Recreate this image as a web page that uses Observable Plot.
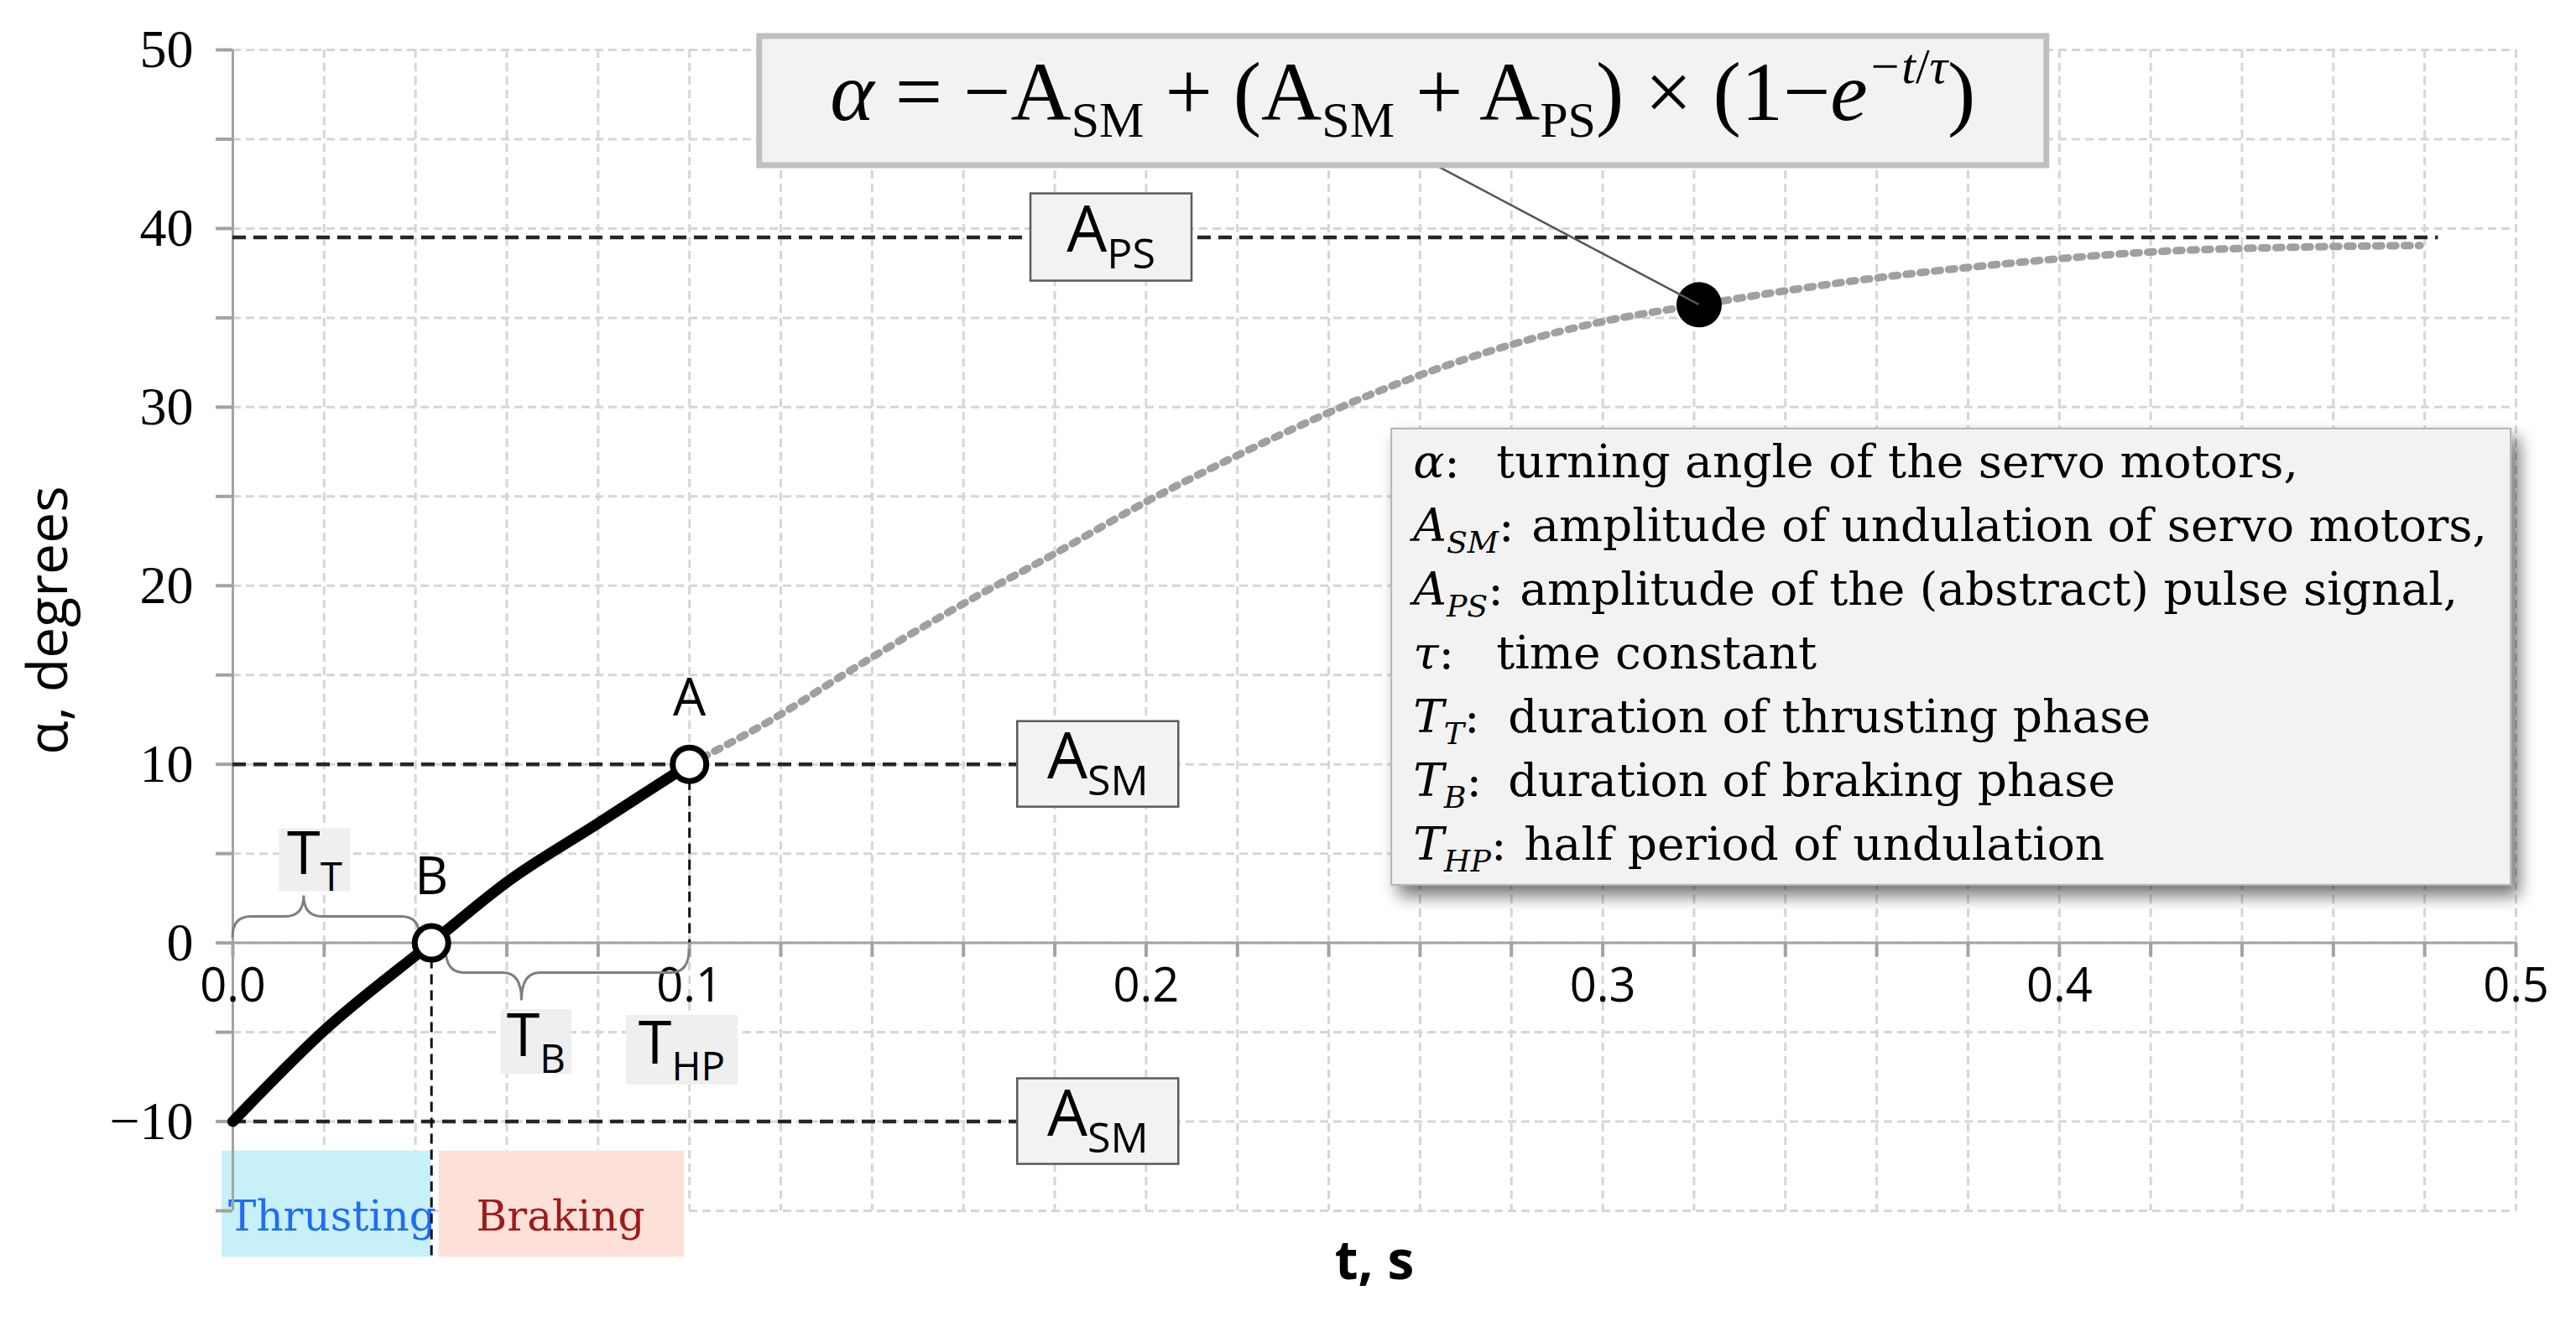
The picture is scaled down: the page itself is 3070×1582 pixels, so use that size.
<!DOCTYPE html>
<html>
<head>
<meta charset="utf-8">
<script src="https://cdn.jsdelivr.net/npm/d3@7"></script>
<script src="https://cdn.jsdelivr.net/npm/@observablehq/plot@0.6"></script>
<style>
  html, body { margin: 0; padding: 0; background: #ffffff; }
  #chart svg { display: block; }
</style>
</head>
<body>
<div id="chart"></div>
<script>
// ------------------------------------------------------------------ data
// thick response curve (thrusting + braking phase)
const tSolid      = [0, 0.02, 0.0435, 0.06, 0.08, 0.1];
const alphaSolid  = [-10, -4.9, 0, 3.4, 6.7, 10];
// dotted continuation of the exponential response
const tDotted     = [0.1, 0.12, 0.133, 0.16, 0.18, 0.2, 0.22, 0.234, 0.251, 0.28, 0.302, 0.3211, 0.353, 0.387, 0.421, 0.455, 0.479];
const alphaDotted = [10, 12.8, 14.9, 19.0, 21.8, 24.7, 27.3, 29.0, 30.9, 33.5, 34.9, 35.73, 37.0, 38.0, 38.7, 38.97, 39.05];

const A_SM = 10;          // amplitude of servo motors
const A_PS = 39.5;        // amplitude of pulse signal
const tB   = 0.0435;      // point B (end of thrusting)
const tHP  = 0.1;         // half period (point A)
const tPSEnd = 0.483;     // end of A_PS reference line
const markerT = 0.3211, markerAlpha = 35.73;   // black marker on the curve

// axis ticks
const xGridTicks  = [0, 0.02, 0.04, 0.06, 0.08, 0.1, 0.12, 0.14, 0.16, 0.18, 0.2, 0.22, 0.24, 0.26, 0.28, 0.3, 0.32, 0.34, 0.36, 0.38, 0.4, 0.42, 0.44, 0.46, 0.48, 0.5];
const xTickLabels = ["0.0", "0.1", "0.2", "0.3", "0.4", "0.5"];
const xTickValues = [0, 0.1, 0.2, 0.3, 0.4, 0.5];
const yGridTicks  = [-15, -10, -5, 0, 5, 10, 15, 20, 25, 30, 35, 40, 45, 50];
const yTickValues = [-10, 0, 10, 20, 30, 40, 50];
const yTickLabels = ["\u221210", "0", "10", "20", "30", "40", "50"];

// phases
const phaseNames = ["Thrusting", "Braking"];
const phaseStart = [0, tB];
const phaseEnd   = [tB, tHP];

// labelled boxes (rich text: _{} subscript)
const boxLabels = ["A_{PS}", "A_{SM}", "A_{SM}", "T_{T}", "T_{B}", "T_{HP}"];
const boxT      = [0.1924, 0.1895, 0.1895, 0.018, 0.0665, 0.0984];
const boxAlpha  = [A_PS, A_SM, -A_SM, 4.63, -5.54, -6.0];

// braces
const braceStart = [0, 0.0467];
const braceEnd   = [0.041, 0.1];
const braceTip   = [0.0156, 0.0633];
const braceSide  = ["up", "down"];

// point labels
const pointNames = ["A", "B"];
const pointT     = [tHP, tB];
const pointAlpha = [A_SM, 0];

// formula & legend
const formulaText = "*α* = \u2212A_{SM} + (A_{SM} + A_{PS}) \u00D7 (1\u2212*e*^{*\u2212t*/*τ*})";
const formulaT = 0.2563, formulaAlpha = 47.14;
const leaderT = 0.2635;
const legendSymbols = ["*α*:", "*A*_{*SM*}:", "*A*_{*PS*}:", "*τ*:", "*T*_{*T*}:", "*T*_{*B*}:", "*T*_{*HP*}:"];
const legendTexts = [
  "turning angle of the servo motors,",
  "amplitude of undulation of servo motors,",
  "amplitude of the (abstract) pulse signal,",
  "time constant",
  "duration of thrusting phase",
  "duration of braking phase",
  "half period of undulation"
];
const legendT = 0.2538, legendAlpha = 28.78;

// ------------------------------------------------------------------ styles / layout
const sans = "'Open Sans', 'DejaVu Sans', sans-serif";
const timesSerif = "'Liberation Serif', 'DejaVu Serif', serif";
const bookSerif = "'DejaVu Serif', 'Liberation Serif', serif";
const gridColor = "#d6d6d6";
const axisColor = "#a3a3a3";
const refDash = "16,9";

const boxStyle = [
  {w: 192, h: 104, size: 76, border: true},
  {w: 192, h: 102, size: 76, border: true},
  {w: 192, h: 102, size: 76, border: true},
  {w: 85,  h: 75,  size: 72, border: false},
  {w: 84,  h: 77,  size: 72, border: false},
  {w: 133, h: 83,  size: 72, border: false}
];
const legendDescOffset = [99, 141, 127, 99, 113, 113, 132];
const legendFont = 55;

// ------------------------------------------------------------------ helpers
function parseRich(str) {
  const segs = []; let italic = false, mode = null, buf = "";
  const flush = () => { if (buf) segs.push({text: buf, italic, sub: mode === "sub", sup: mode === "sup"}); buf = ""; };
  for (let i = 0; i < str.length; i++) {
    const c = str[i];
    if (c === "*") { flush(); italic = !italic; }
    else if ((c === "_" || c === "^") && str[i + 1] === "{") { flush(); mode = c === "_" ? "sub" : "sup"; i++; }
    else if (c === "}" && mode) { flush(); mode = null; }
    else buf += c;
  }
  flush();
  return segs;
}
function richText(parent, x, y, str, o) {
  const t = parent.append("text")
    .attr("x", x).attr("y", y)
    .attr("font-family", o.family).attr("font-size", o.size)
    .attr("text-anchor", o.anchor || "start")
    .attr("fill", o.fill || "#000");
  let shift = 0;
  for (const s of parseRich(str)) {
    const sp = t.append("tspan").text(s.text);
    if (s.italic) sp.attr("font-style", "italic");
    const target = s.sub ? o.subShift : s.sup ? -o.supShift : 0;
    if (target !== shift) { sp.attr("dy", target - shift); shift = target; }
    if (s.sub || s.sup) sp.attr("font-size", o.size * o.subScale);
  }
  return t;
}

// ------------------------------------------------------------------ data tables
const solid = tSolid.map((t, i) => ({t, a: alphaSolid[i]}));
const dotted = tDotted.map((t, i) => ({t, a: alphaDotted[i]}));
const phases = phaseNames.map((name, i) => ({name, t0: phaseStart[i], t1: phaseEnd[i]}));
const points = pointNames.map((name, i) => ({name, t: pointT[i], a: pointAlpha[i]}));

// ------------------------------------------------------------------ custom marks
const bracesMark = (index, {x, y}) => {
  const g = d3.create("svg:g").attr("fill", "none").attr("stroke", "#7f7f7f").attr("stroke-width", 3);
  braceStart.forEach((t0, i) => {
    const dir = braceSide[i] === "up" ? -1 : 1;
    const y0 = y(0);
    const flat = dir < 0 ? 31 : 36, tip = dir < 0 ? 56 : 69, endOff = dir < 0 ? 6 : 8;
    const x0 = x(t0), x1 = x(braceEnd[i]), xt = x(braceTip[i]);
    const yb = y0 + dir * endOff, yf = y0 + dir * flat, yt = y0 + dir * tip;
    const r = 22;
    g.append("path").attr("d",
      `M${x0},${yb} Q${x0},${yf} ${x0 + r},${yf} L${xt - r},${yf} Q${xt},${yf} ${xt},${yt} ` +
      `Q${xt},${yf} ${xt + r},${yf} L${x1 - r},${yf} Q${x1},${yf} ${x1},${yb}`);
  });
  return g.node();
};

const boxesMark = (index, {x, y}) => {
  const g = d3.create("svg:g");
  boxLabels.forEach((lab, i) => {
    const s = boxStyle[i];
    const cx = x(boxT[i]), cy = y(boxAlpha[i]);
    g.append("rect")
      .attr("x", cx - s.w / 2).attr("y", cy - s.h / 2)
      .attr("width", s.w).attr("height", s.h)
      .attr("fill", s.border ? "#f2f2f2" : "#efefef")
      .attr("stroke", s.border ? "#5a5a5a" : "none")
      .attr("stroke-width", 2.5);
    richText(g, cx, cy + 17, lab, {family: sans, size: s.size, anchor: "middle", subScale: 0.66, subShift: 20, supShift: 0});
  });
  return g.node();
};

const formulaMark = (index, {x, y}) => {
  const g = d3.create("svg:g");
  const cx = x(formulaT), cy = y(formulaAlpha), w = 1534, h = 154;
  g.append("line")
    .attr("x1", x(leaderT)).attr("y1", cy + h / 2)
    .attr("x2", x(markerT)).attr("y2", y(markerAlpha))
    .attr("stroke", "#555").attr("stroke-width", 2.5);
  g.append("rect").attr("x", cx - w / 2).attr("y", cy - h / 2).attr("width", w).attr("height", h)
    .attr("fill", "#f2f2f2").attr("stroke", "#bfbfbf").attr("stroke-width", 7);
  richText(g, cx, cy + 23, formulaText, {family: timesSerif, size: 100, anchor: "middle", subScale: 0.6, subShift: 20, supShift: 44});
  return g.node();
};

const legendMark = (index, {x, y}) => {
  const g = d3.create("svg:g").attr("text-anchor", "start");
  const defs = g.append("defs");
  const f = defs.append("filter").attr("id", "legendShadow").attr("x", "-10%").attr("y", "-10%").attr("width", "125%").attr("height", "130%");
  f.append("feDropShadow").attr("dx", 9).attr("dy", 12).attr("stdDeviation", 10).attr("flood-color", "#000").attr("flood-opacity", 0.55);
  const x0 = x(legendT), y0 = y(legendAlpha), w = 1334, h = 544;
  g.append("rect").attr("x", x0).attr("y", y0).attr("width", w).attr("height", h)
    .attr("fill", "#f2f2f2").attr("stroke", "#b3b3b3").attr("stroke-width", 2)
    .attr("filter", "url(#legendShadow)");
  legendSymbols.forEach((sym, i) => {
    const by = y0 + 58 + i * 76;
    richText(g, x0 + 26, by, sym, {family: bookSerif, size: legendFont, anchor: "start", subScale: 0.66, subShift: 14, supShift: 0});
    g.append("text").attr("x", x0 + 26 + legendDescOffset[i]).attr("y", by)
      .attr("text-anchor", "start")
      .attr("font-family", bookSerif).attr("font-size", legendFont).attr("fill", "#000")
      .text(legendTexts[i]);
  });
  return g.node();
};

// ------------------------------------------------------------------ plot
const chart = Plot.plot({
  width: 3070,
  height: 1582,
  marginLeft: 277,
  marginRight: 72,
  marginTop: 59,
  marginBottom: 139,
  x: {domain: [0, 0.5], axis: null},
  y: {domain: [-15, 50], axis: null},
  style: {background: "#ffffff", fontFamily: sans, overflow: "visible"},
  marks: [
    // grid
    Plot.ruleX(xGridTicks, {stroke: gridColor, strokeWidth: 3, strokeDasharray: "10,6"}),
    Plot.ruleY(yGridTicks, {stroke: gridColor, strokeWidth: 3, strokeDasharray: "10,6"}),

    // phase boxes
    Plot.rect(phases.slice(0, 1), {x1: "t0", x2: "t1", y1: -11.65, y2: -17.6, fill: "#c8f0f8", insetLeft: -13}),
    Plot.rect(phases.slice(1), {x1: "t0", x2: "t1", y1: -11.65, y2: -17.6, fill: "#fde0d8", insetLeft: 9, insetRight: 6}),
    Plot.text(phases, {x: d => (d.t0 + d.t1) / 2, y: -14.6, dy: 16, text: "name", fontFamily: bookSerif, fontSize: 50,
      lineAnchor: "middle", fill: d => d.name === "Thrusting" ? "#1f6cf5" : "#9e1b1b"}),

    // y axis
    Plot.ruleX([0], {y1: -15, y2: 50, stroke: axisColor, strokeWidth: 3}),
    Plot.ruleY(yGridTicks, {x1: 0, x2: 0, insetLeft: -20, stroke: axisColor, strokeWidth: 4}),
    Plot.text(yTickValues, {x: 0, y: d => d, dx: -47, textAnchor: "end", lineAnchor: "middle", fontFamily: timesSerif, fontSize: 64,
      text: (d, i) => yTickLabels[i], fill: "#000"}),
    Plot.text(["\u03B1, degrees"], {frameAnchor: "left", dx: -219, dy: -12, rotate: -90, textAnchor: "middle", lineAnchor: "middle",
      fontSize: 66, fontFamily: sans, fill: "#000"}),

    // x axis along alpha = 0
    Plot.ruleY([0], {stroke: axisColor, strokeWidth: 3}),
    Plot.ruleX(xGridTicks, {y1: 0, y2: 0, insetBottom: -17, stroke: axisColor, strokeWidth: 4}),
    Plot.text(xTickValues, {x: d => d, y: 0, dy: 52, lineAnchor: "middle", fontSize: 56, fontFamily: sans, fill: "#000",
      text: (d, i) => xTickLabels[i]}),
    Plot.text(["t, s"], {frameAnchor: "bottom", dy: 61, textAnchor: "middle", lineAnchor: "middle",
      fontSize: 64, fontWeight: "bold", fontFamily: sans, fill: "#000"}),

    // reference lines
    Plot.ruleY([A_PS], {x1: 0, x2: tPSEnd, stroke: "#262626", strokeWidth: 4.5, strokeDasharray: refDash}),
    Plot.ruleY([A_SM, -A_SM], {x1: 0, x2: boxT[1], stroke: "#262626", strokeWidth: 4.5, strokeDasharray: refDash}),
    Plot.ruleX([tB], {y1: 0, y2: -15, insetBottom: -55, stroke: "#111", strokeWidth: 3, strokeDasharray: "12,7"}),
    Plot.ruleX([tHP], {y1: A_SM, y2: 0, stroke: "#111", strokeWidth: 3, strokeDasharray: "12,7"}),

    // braces and label boxes
    bracesMark,
    boxesMark,

    // curves
    Plot.line(dotted, {x: "t", y: "a", stroke: "#a0a0a0", strokeWidth: 9, strokeDasharray: "7,10", curve: "monotone-x"}),
    Plot.line(solid, {x: "t", y: "a", stroke: "#000", strokeWidth: 13, strokeLinejoin: "round", curve: "monotone-x"}),

    // points
    Plot.dot(points, {x: "t", y: "a", r: 20, fill: "#fff", stroke: "#000", strokeWidth: 7}),
    Plot.text(points, {x: "t", y: "a", text: "name", dy: -78, lineAnchor: "middle", fontSize: 62, fontFamily: sans, fill: "#000"}),
    Plot.dot([{t: markerT, a: markerAlpha}], {x: "t", y: "a", r: 27, fill: "#000"}),

    // formula and legend
    formulaMark,
    legendMark
  ]
});

document.getElementById("chart").appendChild(chart);
</script>
</body>
</html>
